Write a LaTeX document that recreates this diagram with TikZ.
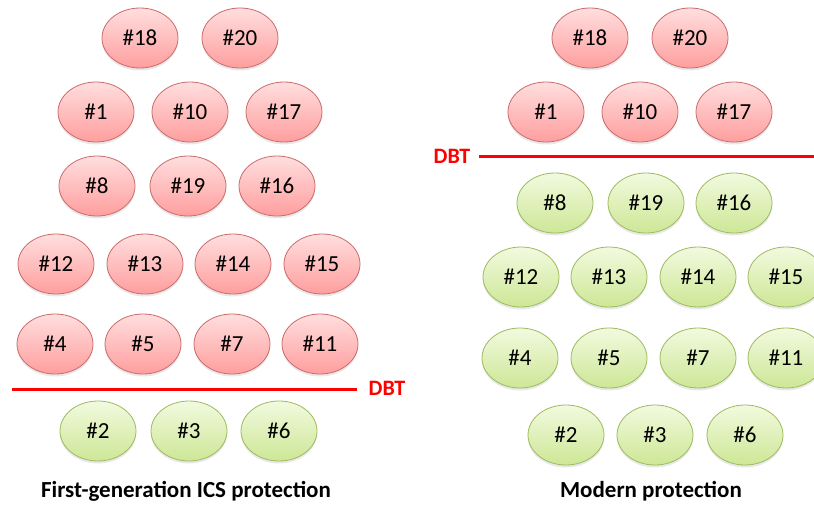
\documentclass[tikz,border=0pt]{standalone}
\usepackage{fontspec}
\setmainfont{Carlito}
\usetikzlibrary{shadows,shapes.geometric}
\definecolor{redtop}{HTML}{FFDEDE}
\definecolor{redbot}{HTML}{FF9E9E}
\definecolor{redline}{HTML}{CC6B6B}
\definecolor{grntop}{HTML}{F2FADF}
\definecolor{grnbot}{HTML}{CDE796}
\definecolor{grnline}{HTML}{9DBB5E}
\definecolor{dbtred}{HTML}{FF0000}
\tikzset{
  base/.style={ellipse, minimum width=76pt, minimum height=60pt, inner sep=0pt, line width=0.8pt,
    font=\fontsize{23}{26}\selectfont, text=black,
    drop shadow={opacity=0.18, shadow xshift=0pt, shadow yshift=-2.5pt}},
  bad/.style={base, draw=redline, top color=redtop, bottom color=redbot},
  good/.style={base, draw=grnline, top color=grntop, bottom color=grnbot},
  dbtline/.style={draw=dbtred, line width=3pt},
  dbtlabel/.style={text=dbtred, font=\fontsize{22}{25}\selectfont\bfseries, inner sep=0pt},
  caption/.style={font=\fontsize{23}{26}\selectfont\bfseries, inner sep=0pt}
}
\begin{document}
\begin{tikzpicture}[x=1pt,y=-1pt]
\useasboundingbox (0,0) rectangle (814,504);
\clip (0,0) rectangle (814,504);
% left panel
\node[bad] (l18) at (140,38) {\#18};
\node[bad] (l20) at (240,38) {\#20};
\node[bad] (l1) at (96,112) {\#1};
\node[bad] (l10) at (190,112) {\#10};
\node[bad] (l17) at (284,112) {\#17};
\node[bad] (l8) at (97,186) {\#8};
\node[bad] (l19) at (188,186) {\#19};
\node[bad] (l16) at (277,186) {\#16};
\node[bad] (l12) at (56,264) {\#12};
\node[bad] (l13) at (145,264) {\#13};
\node[bad] (l14) at (233,264) {\#14};
\node[bad] (l15) at (322,264) {\#15};
\node[bad] (l4) at (55,344) {\#4};
\node[bad] (l5) at (143,344) {\#5};
\node[bad] (l7) at (232,344) {\#7};
\node[bad] (l11) at (320,344) {\#11};
\coordinate (ldbta) at (12,389);
\coordinate (ldbtb) at (357,389);
\draw[dbtline] (ldbta) -- (ldbtb);
\node[dbtlabel] (ldbt) at (387,388) {DBT};
\node[good] (l2) at (98,431) {\#2};
\node[good] (l3) at (189,431) {\#3};
\node[good] (l6) at (279,431) {\#6};
\node[caption] (lcap) at (186,491) {First-generation ICS protection};
% right panel
\node[bad] (r18) at (590,38) {\#18};
\node[bad] (r20) at (690,38) {\#20};
\node[bad] (r1) at (546,112) {\#1};
\node[bad] (r10) at (640,112) {\#10};
\node[bad] (r17) at (734,112) {\#17};
\node[dbtlabel] (rdbt) at (452,156) {DBT};
\coordinate (rdbta) at (479,156);
\coordinate (rdbtb) at (814,156);
\draw[dbtline] (rdbta) -- (rdbtb);
\node[good] (r8) at (555,203) {\#8};
\node[good] (r19) at (646,203) {\#19};
\node[good] (r16) at (734,203) {\#16};
\node[good] (r12) at (521,277) {\#12};
\node[good] (r13) at (609,277) {\#13};
\node[good] (r14) at (698,277) {\#14};
\node[good] (r15) at (786,277) {\#15};
\node[good] (r4) at (520,358) {\#4};
\node[good] (r5) at (609,358) {\#5};
\node[good] (r7) at (698,358) {\#7};
\node[good] (r11) at (786,358) {\#11};
\node[good] (r2) at (566,435) {\#2};
\node[good] (r3) at (655,435) {\#3};
\node[good] (r6) at (745,435) {\#6};
\node[caption] (rcap) at (651,491) {Modern protection};
\end{tikzpicture}
\end{document}
